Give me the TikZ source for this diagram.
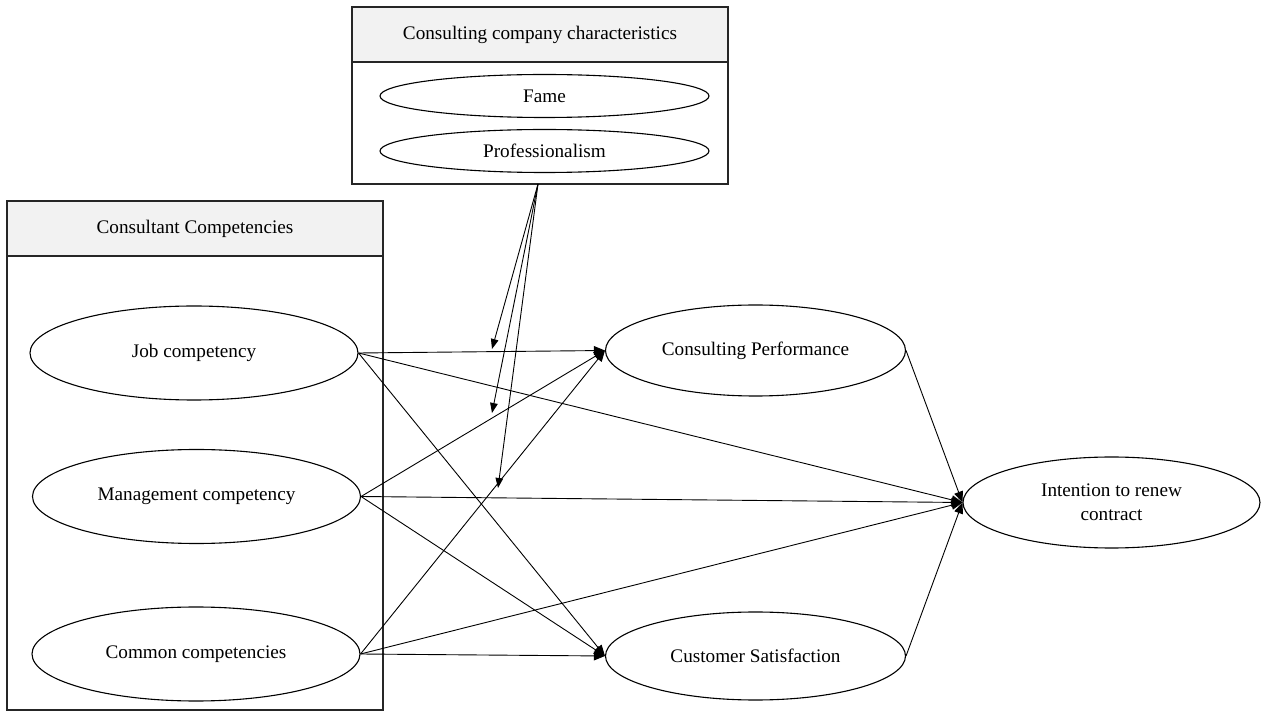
\documentclass[tikz,border=0pt]{standalone}
\usepackage{fontspec}
\setmainfont{Liberation Serif}
\usetikzlibrary{arrows.meta,shapes.geometric}

\begin{document}
\begin{tikzpicture}[
  x=0.5pt, y=-0.5pt,
  font=\fontsize{9.6}{12}\selectfont,
  panel/.style={
    draw=black!85,
    line width=0.65pt,
    minimum width=188pt,
    inner sep=0pt,
    outer sep=0pt
  },
  panelhead/.style={panel, fill=black!5, minimum height=27.5pt},
  construct/.style={
    ellipse,
    draw,
    line width=0.55pt,
    inner sep=0pt,
    align=center
  },
  bigvar/.style={construct, minimum width=164pt, minimum height=47pt},
  outvar/.style={construct, minimum width=150pt, minimum height=45.5pt},
  item/.style={construct, minimum width=164.5pt, minimum height=21.5pt},
  path/.style={
    line width=0.45pt,
    -{Triangle[length=5.5pt,width=4.5pt]}
  },
  moder/.style={
    line width=0.45pt,
    -{Triangle[length=5pt,width=3.8pt]}
  }
]
\useasboundingbox (0,0) rectangle (1266,711);

% panels
\node[panel, minimum height=88.5pt] (ccbox) at (540,95.5) {};
\node[panelhead] (cchead) at (540,34.5) {Consulting company characteristics};
\node[panel, minimum height=254.5pt] (compbox) at (195,455.5) {};
\node[panelhead] (comphead) at (195,228.5) {Consultant Competencies};

% company characteristics
\node[item] (fame) at (544.5,96) {Fame};
\node[item] (prof) at (544.5,151) {Professionalism};

% competencies
\node[bigvar] (job) at (194,353) {Job competency};
\node[bigvar] (mgmt) at (196.5,496.5) {Management competency};
\node[bigvar] (common) at (196,654) {Common competencies};

% outcomes
\node[outvar] (perf) at (755.5,350.5) {Consulting Performance};
\node[outvar, minimum height=44pt] (sat) at (755.5,656) {Customer Satisfaction};
\node[outvar, minimum width=148.5pt] (renew) at (1111.5,502.5)
  {Intention to renew\\contract};

% moderation targets
\coordinate (src) at (538,184);
\coordinate (m1) at (492,349);
\coordinate (m2) at (492,413);
\coordinate (m3) at (498,488);

\draw[path] (job.east) -- (perf.west);
\draw[path] (job.east) -- (renew.west);
\draw[path] (job.east) -- (sat.west);

\draw[path] (mgmt.east) -- (perf.west);
\draw[path] (mgmt.east) -- (renew.west);
\draw[path] (mgmt.east) -- (sat.west);

\draw[path] (common.east) -- (perf.west);
\draw[path] (common.east) -- (renew.west);
\draw[path] (common.east) -- (sat.west);

\draw[path] (perf.east) -- (renew.west);
\draw[path] (sat.east) -- (renew.west);

\draw[moder] (src) -- (m1);
\draw[moder] (src) -- (m2);
\draw[moder] (src) -- (m3);

\end{tikzpicture}
\end{document}
